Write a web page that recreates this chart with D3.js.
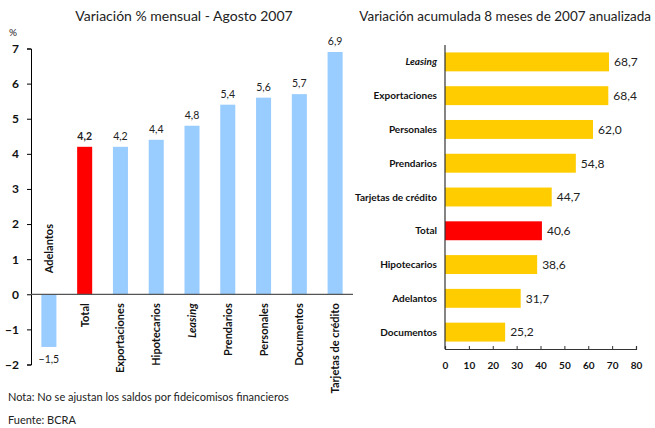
<!DOCTYPE html>
<html>
<head>
<meta charset="utf-8">
<script src="https://cdn.jsdelivr.net/npm/d3@7"></script>
<style>
  body { margin: 0; background: #fff; }
  svg { font-family: Lato, "Open Sans", sans-serif; }
</style>
</head>
<body>
<div id="chart"></div>
<script>
// left chart: monthly variation, August 2007
const monthCats = ["Adelantos", "Total", "Exportaciones", "Hipotecarios", "Leasing", "Prendarios", "Personales", "Documentos", "Tarjetas de crédito"];
const monthVals = [-1.5, 4.2, 4.2, 4.4, 4.8, 5.4, 5.6, 5.7, 6.9];
const monthTicks = [-2, -1, 0, 1, 2, 3, 4, 5, 6, 7];

// right chart: accumulated 8 months, annualized
const accCats = ["Leasing", "Exportaciones", "Personales", "Prendarios", "Tarjetas de crédito", "Total", "Hipotecarios", "Adelantos", "Documentos"];
const accVals = [68.7, 68.4, 62.0, 54.8, 44.7, 40.6, 38.6, 31.7, 25.2];
const accTicks = [0, 10, 20, 30, 40, 50, 60, 70, 80];

const fmt = v => d3.format(".1f")(v).replace(".", ",");
const blue = "#99CCFF", red = "#FF0000", gold = "#FFCC00";

const svg = d3.select("#chart").append("svg")
  .attr("width", 655)
  .attr("height", 428);

// ---------- LEFT ----------
const x1 = d3.scaleBand().domain(monthCats).range([31, 353]).paddingInner(0.58).paddingOuter(0.29);
const y1 = d3.scaleLinear().domain([-2, 7]).range([364.5, 48.5]);

svg.append("text")
  .attr("x", 184).attr("y", 21)
  .attr("text-anchor", "middle")
  .attr("font-size", 14).attr("fill", "#222")
  .text("Variación % mensual - Agosto 2007");

svg.append("text")
  .attr("x", 9).attr("y", 36)
  .attr("font-size", 10).attr("fill", "#222")
  .text("%");

svg.selectAll(".mbar")
  .data(monthVals)
  .enter().append("rect")
  .attr("class", "mbar")
  .attr("x", (d, i) => x1(monthCats[i]))
  .attr("width", x1.bandwidth())
  .attr("y", d => y1(Math.max(0, d)))
  .attr("height", d => Math.abs(y1(d) - y1(0)))
  .attr("fill", (d, i) => monthCats[i] === "Total" ? red : blue);

const yAxis1 = svg.append("g")
  .attr("transform", "translate(31,0)")
  .call(d3.axisLeft(y1).tickValues(monthTicks).tickSize(4).tickPadding(8).tickFormat(d3.format("d")));
yAxis1.select(".domain").attr("stroke", "#000");
yAxis1.selectAll("text").attr("font-size", 12).attr("font-weight", "bold").attr("fill", "#111").attr("font-family", "Lato, sans-serif");

// zero line
svg.append("line")
  .attr("x1", 31).attr("x2", 353)
  .attr("y1", y1(0)).attr("y2", y1(0))
  .attr("stroke", "#555").attr("stroke-width", 1.2);

// value labels
svg.selectAll(".mval")
  .data(monthVals)
  .enter().append("text")
  .attr("class", "mval")
  .attr("x", (d, i) => x1(monthCats[i]) + x1.bandwidth() / 2)
  .attr("y", d => d >= 0 ? y1(d) - 7 : y1(d) + 16)
  .attr("text-anchor", "middle")
  .attr("font-size", 10.5)
  .attr("font-weight", (d, i) => monthCats[i] === "Total" ? "bold" : "normal")
  .attr("fill", "#222")
  .text(fmt);

// category labels (rotated)
svg.selectAll(".mcat")
  .data(monthCats)
  .enter().append("text")
  .attr("class", "mcat")
  .attr("transform", (d, i) => {
    const cx = x1(d) + x1.bandwidth() / 2;
    const yy = monthVals[i] < 0 ? y1(0) - 21 : y1(0) + 9;
    return `translate(${cx + 4},${yy}) rotate(-90)`;
  })
  .attr("text-anchor", (d, i) => monthVals[i] < 0 ? "start" : "end")
  .attr("font-size", 11)
  .attr("font-weight", "bold")
  .attr("font-style", d => d === "Leasing" ? "italic" : "normal")
  .attr("fill", "#111")
  .text(d => d);

svg.append("text")
  .attr("x", 8).attr("y", 401)
  .attr("font-size", 11).attr("fill", "#222")
  .text("Nota: No se ajustan los saldos por fideicomisos financieros");
svg.append("text")
  .attr("x", 8).attr("y", 424)
  .attr("font-size", 11).attr("fill", "#222")
  .text("Fuente: BCRA");

// ---------- RIGHT ----------
const x2 = d3.scaleLinear().domain([0, 80]).range([445, 636]);
const y2 = d3.scaleBand().domain(accCats).range([45, 349]).paddingInner(0.44).paddingOuter(0.22);

svg.append("text")
  .attr("x", 651).attr("y", 21)
  .attr("text-anchor", "end")
  .attr("font-size", 13.5).attr("fill", "#222")
  .text("Variación acumulada 8 meses de 2007 anualizada");

svg.selectAll(".abar")
  .data(accVals)
  .enter().append("rect")
  .attr("class", "abar")
  .attr("x", x2(0))
  .attr("y", (d, i) => y2(accCats[i]))
  .attr("height", y2.bandwidth())
  .attr("width", d => x2(d) - x2(0))
  .attr("fill", (d, i) => accCats[i] === "Total" ? red : gold);

svg.selectAll(".aval")
  .data(accVals)
  .enter().append("text")
  .attr("class", "aval")
  .attr("x", d => x2(d) + 5)
  .attr("y", (d, i) => y2(accCats[i]) + y2.bandwidth() / 2)
  .attr("dy", "0.36em")
  .attr("font-size", 12).attr("fill", "#222")
  .text(fmt);

svg.selectAll(".acat")
  .data(accCats)
  .enter().append("text")
  .attr("class", "acat")
  .attr("x", 437)
  .attr("y", d => y2(d) + y2.bandwidth() / 2)
  .attr("dy", "0.35em")
  .attr("text-anchor", "end")
  .attr("font-size", 10)
  .attr("font-weight", "bold")
  .attr("font-style", d => d === "Leasing" ? "italic" : "normal")
  .attr("fill", "#111")
  .text(d => d);

const xAxis2 = svg.append("g")
  .attr("transform", "translate(0,349)")
  .call(d3.axisBottom(x2).tickValues(accTicks).tickSize(-3).tickPadding(13).tickFormat(d3.format("d")));
xAxis2.select(".domain").attr("stroke", "#333").attr("stroke-width", 1.2);
xAxis2.selectAll("line").attr("stroke", "#333");
xAxis2.selectAll("text").attr("font-size", 10).attr("font-weight", "bold").attr("fill", "#111").attr("font-family", "Lato, sans-serif");

svg.append("line")
  .attr("x1", 445).attr("x2", 445)
  .attr("y1", 45).attr("y2", 349)
  .attr("stroke", "#333").attr("stroke-width", 1.2);
</script>
</body>
</html>
